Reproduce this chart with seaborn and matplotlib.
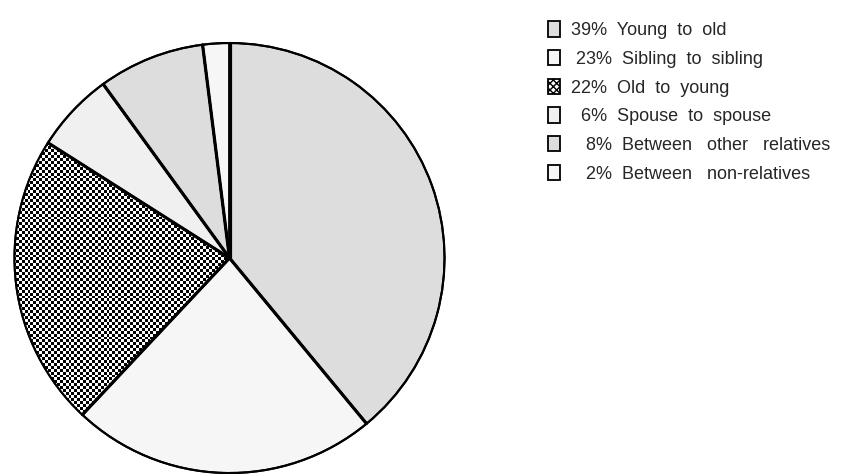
import numpy as np
import matplotlib
matplotlib.use("Agg")
import matplotlib.pyplot as plt
import seaborn as sns
from matplotlib.patches import Patch

# ============ Data ============
categories = ["Young to old", "Sibling to sibling", "Old to young",
              "Spouse to spouse", "Between other relatives", "Between non-relatives"]
shares = [39, 23, 22, 6, 8, 2]
legend_labels = ["39%  Young  to  old", " 23%  Sibling  to  sibling", "22%  Old  to  young",
                 "  6%  Spouse  to  spouse", "   8%  Between   other   relatives",
                 "   2%  Between   non-relatives"]

# ============ Style ============
sns.set_style("white")
plt.rcParams['font.family'] = ['Liberation Sans', 'DejaVu Sans']
face_colors = ["#dddddd", "#f6f6f6", "white", "#f0f0f0", "#dddddd", "#f6f6f6"]
CHECKER_IDX = 2
LIM = 1.02

fig = plt.figure(figsize=(8.51, 4.74), dpi=100)
ax = fig.add_axes([0.012, -0.007, 0.5154, 0.9253])

wedges, _ = ax.pie(shares, colors=face_colors, startangle=90, counterclock=False,
                   radius=1.0, wedgeprops=dict(edgecolor="black", linewidth=1.5))

# checkered fill for "Old to young", clipped to its wedge
n = 150
yy, xx = np.indices((n, n))
checker = (xx + yy) % 2
img = ax.imshow(checker, cmap="gray", extent=(-LIM, LIM, -LIM, LIM),
                interpolation="nearest", zorder=wedges[CHECKER_IDX].get_zorder() + 0.1)
img.set_clip_path(wedges[CHECKER_IDX])

# heavier radial separators, taken from the wedge angles
for w in wedges:
    t = np.deg2rad(w.theta1)
    ax.plot([0, np.cos(t)], [0, np.sin(t)], color="black", lw=2.3,
            solid_capstyle="butt", zorder=6)
# outline over the texture
ax.pie(shares, colors=["none"] * len(shares), startangle=90, counterclock=False,
       radius=1.0, wedgeprops=dict(edgecolor="black", linewidth=1.5, zorder=5))

ax.set_xlim(-LIM, LIM)
ax.set_ylim(-LIM, LIM)
ax.set_aspect("equal")
ax.axis("off")

handles = []
for i, c in enumerate(face_colors):
    if i == CHECKER_IDX:
        handles.append(Patch(facecolor="white", edgecolor="black", hatch="xxxxx", linewidth=1.3))
    else:
        handles.append(Patch(facecolor=c, edgecolor="black", linewidth=1.3))

fig.legend(handles, legend_labels, loc="upper left", bbox_to_anchor=(0.636, 0.97),
           frameon=False, fontsize=13, handlelength=0.62, handleheight=0.92,
           handletextpad=0.65, labelspacing=0.6, borderaxespad=0)

plt.savefig("out.png", dpi=100)
